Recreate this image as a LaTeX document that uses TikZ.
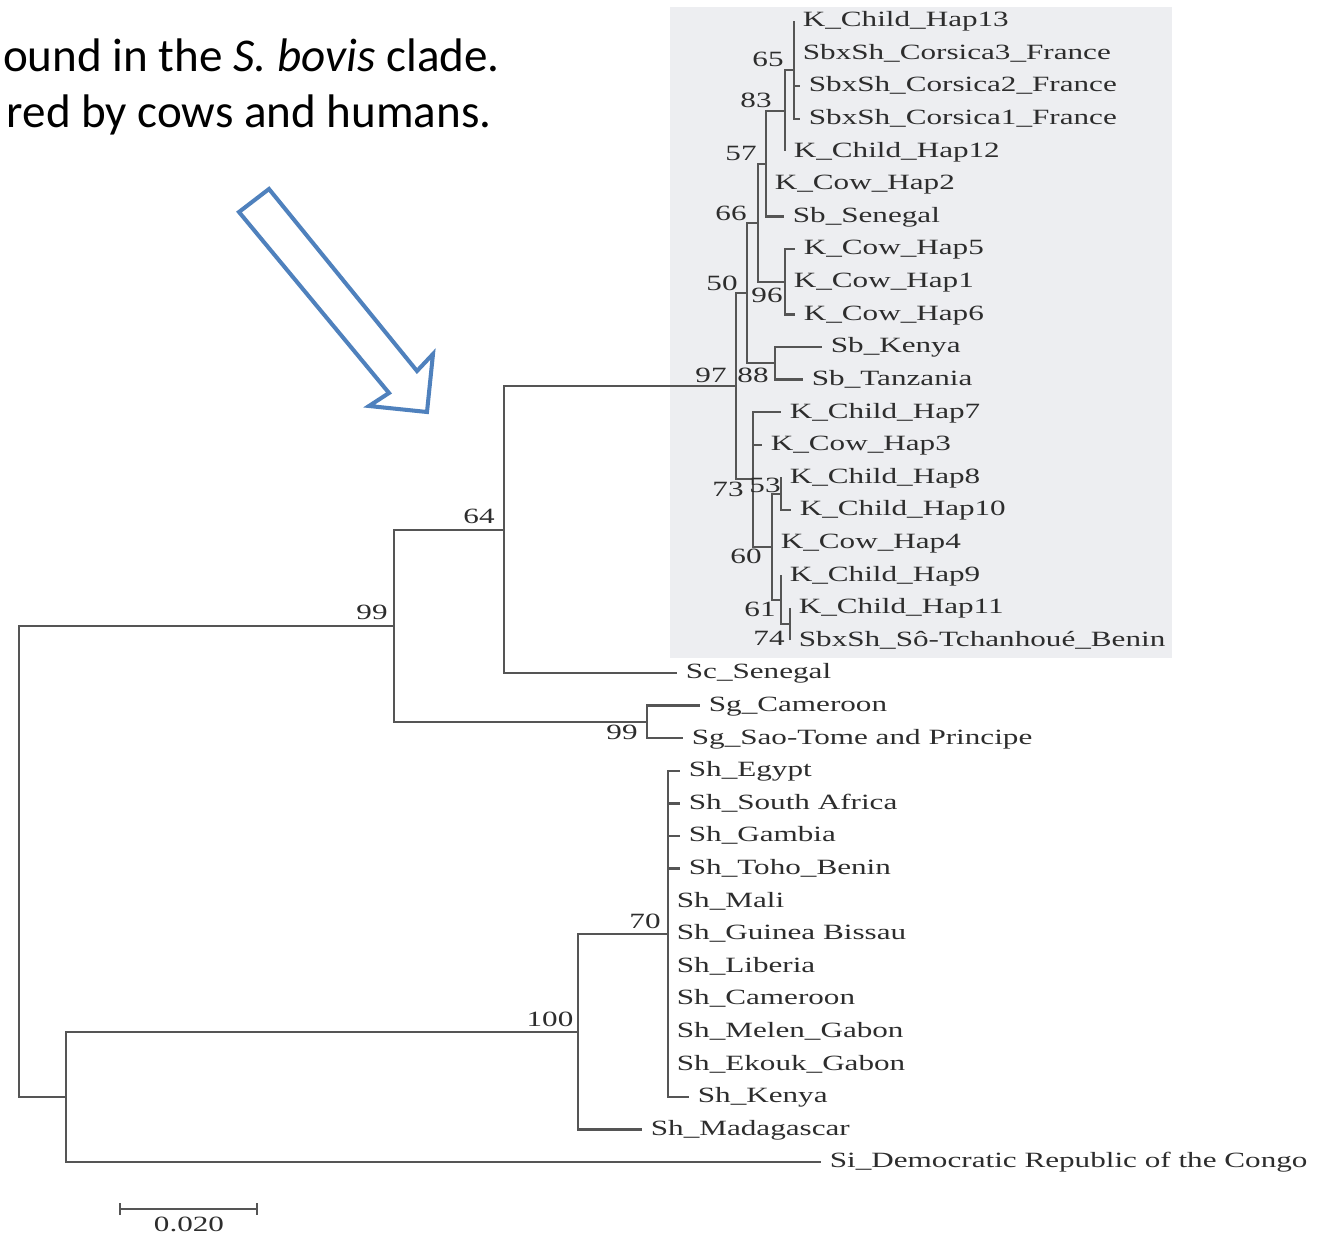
\documentclass[tikz,border=0pt]{standalone}
\usepackage{fontspec}
\usepackage{tikz}
\usetikzlibrary{arrows.meta}

\newfontfamily\treefont[FakeStretch=1.43]{Liberation Serif}
\newfontfamily\notefont{Carlito}

\definecolor{cladebg}{RGB}{237,238,241}
\definecolor{treeline}{RGB}{85,85,85}
\definecolor{treetext}{RGB}{45,45,45}
\definecolor{arrowblue}{RGB}{79,129,189}

\tikzset{
  branch/.style={draw=treeline, line width=1.3pt},
  leaf/.style={anchor=west, inner xsep=0.17cm, inner ysep=0pt,
    text height=0.66em, text depth=0pt, text=treetext,
    font=\fontsize{12.4pt}{14pt}\treefont},
  boot/.style={inner sep=0pt, text height=0.66em, text depth=0pt,
    text=treetext, font=\fontsize{12.4pt}{14pt}\treefont},
  note/.style={inner sep=0pt, anchor=base east,
    font=\fontsize{26.8pt}{32pt}\notefont}
}

\begin{document}
\begin{tikzpicture}[x=0.02cm,y=-0.02cm]
\useasboundingbox (0,0) rectangle (1322,1237);

%%% HELP LINES - uncomment to check positions
% \draw[step=100,gray,very thin] (0,0) grid (1322,1237);

% S. bovis clade (shaded)
\fill[cladebg] (670,7) rectangle (1172,658);

% caption text, cut on the left
\node[note] (cap1) at (500,72) {ound in the \textit{S. bovis} clade.};
\node[note] (cap2) at (492,128) {red by cows and humans.};

% hollow arrow
\draw[arrowblue, line width=2.3pt, fill=white, line join=miter]
  (239,212) -- (269,189) -- (417,371) -- (433,354)
  -- (427,412) -- (369,406) -- (389,393) -- cycle;

%% internal nodes
\coordinate (nroot) at (19,861);
\coordinate (n99a) at (394,626);
\coordinate (n64) at (504,530);
\coordinate (n97) at (736,386);
\coordinate (n50) at (747,293);
\coordinate (n66) at (758,223);
\coordinate (n57) at (766,164);
\coordinate (n83) at (785,111);
\coordinate (n65) at (794,70);
\coordinate (n96) at (785,282);
\coordinate (n88) at (775,363);
\coordinate (n73) at (753,479);
\coordinate (n60) at (772,547);
\coordinate (n53) at (781,494);
\coordinate (n61) at (781,600);
\coordinate (n74) at (790,624);
\coordinate (n99b) at (647,722);
\coordinate (nhi) at (66,1097);
\coordinate (n100) at (578,1032);
\coordinate (n70) at (668,934);

%% leaves
\node[leaf] (l1) at (794,21) {K\_Child\_Hap13};
\node[leaf] (l2) at (794,53.6) {SbxSh\_Corsica3\_France};
\node[leaf] (l3) at (800,86.2) {SbxSh\_Corsica2\_France};
\node[leaf] (l4) at (800,118.8) {SbxSh\_Corsica1\_France};
\node[leaf] (l5) at (785,151.4) {K\_Child\_Hap12};
\node[leaf] (l6) at (766,184) {K\_Cow\_Hap2};
\node[leaf] (l7) at (784,216.6) {Sb\_Senegal};
\node[leaf] (l8) at (795,249.2) {K\_Cow\_Hap5};
\node[leaf] (l9) at (785,281.8) {K\_Cow\_Hap1};
\node[leaf] (l10) at (795,314.4) {K\_Cow\_Hap6};
\node[leaf] (l11) at (822,347) {Sb\_Kenya};
\node[leaf] (l12) at (803,379.6) {Sb\_Tanzania};
\node[leaf] (l13) at (781,412.2) {K\_Child\_Hap7};
\node[leaf] (l14) at (762,444.8) {K\_Cow\_Hap3};
\node[leaf] (l15) at (781,477.4) {K\_Child\_Hap8};
\node[leaf] (l16) at (791,510) {K\_Child\_Hap10};
\node[leaf] (l17) at (772,542.6) {K\_Cow\_Hap4};
\node[leaf] (l18) at (781,575.2) {K\_Child\_Hap9};
\node[leaf] (l19) at (790,607.8) {K\_Child\_Hap11};
\node[leaf] (l20) at (790,640.4) {SbxSh\_Sô-Tchanhoué\_Benin};
\node[leaf] (l21) at (677,673) {Sc\_Senegal};
\node[leaf] (l22) at (700,705.6) {Sg\_Cameroon};
\node[leaf] (l23) at (683,738.2) {Sg\_Sao-Tome and Principe};
\node[leaf] (l24) at (680,770.8) {Sh\_Egypt};
\node[leaf] (l25) at (680,803.4) {Sh\_South Africa};
\node[leaf] (l26) at (680,836) {Sh\_Gambia};
\node[leaf] (l27) at (680,868.6) {Sh\_Toho\_Benin};
\node[leaf] (l28) at (668,901.2) {Sh\_Mali};
\node[leaf] (l29) at (668,933.8) {Sh\_Guinea Bissau};
\node[leaf] (l30) at (668,966.4) {Sh\_Liberia};
\node[leaf] (l31) at (668,999) {Sh\_Cameroon};
\node[leaf] (l32) at (668,1031.6) {Sh\_Melen\_Gabon};
\node[leaf] (l33) at (668,1064.2) {Sh\_Ekouk\_Gabon};
\node[leaf] (l34) at (689,1096.8) {Sh\_Kenya};
\node[leaf] (l35) at (642,1129.4) {Sh\_Madagascar};
\node[leaf] (l36) at (821,1162) {Si\_Democratic Republic of the Congo};

%% branches
\draw[branch] (nroot) |- (n99a) (nroot) |- (nhi);
\draw[branch] (n99a) |- (n64) (n99a) |- (n99b);
\draw[branch] (n64) |- (n97) (n64) |- (l21.west);
\draw[branch] (n97) |- (n50) (n97) |- (n73);
\draw[branch] (n50) |- (n66) (n50) |- (n88);
\draw[branch] (n66) |- (n57) (n66) |- (n96);
\draw[branch] (n57) |- (n83) (n57) |- (l6.west) (n57) |- (l7.west);
\draw[branch] (n83) |- (n65) (n83) |- (l5.west);
\draw[branch] (n65) |- (l1.west) (n65) |- (l2.west)
  (n65) |- (l3.west) (n65) |- (l4.west);
\draw[branch] (n96) |- (l8.west) (n96) |- (l9.west) (n96) |- (l10.west);
\draw[branch] (n88) |- (l11.west) (n88) |- (l12.west);
\draw[branch] (n73) |- (l13.west) (n73) |- (l14.west) (n73) |- (n60);
\draw[branch] (n60) |- (n53) (n60) |- (l17.west) (n60) |- (n61);
\draw[branch] (n53) |- (l15.west) (n53) |- (l16.west);
\draw[branch] (n61) |- (l18.west) (n61) |- (n74);
\draw[branch] (n74) |- (l19.west) (n74) |- (l20.west);
\draw[branch] (n99b) |- (l22.west) (n99b) |- (l23.west);
\draw[branch] (nhi) |- (n100) (nhi) |- (l36.west);
\draw[branch] (n100) |- (n70) (n100) |- (l35.west);
\draw[branch] (n70) |- (l24.west) (n70) |- (l34.west);
\draw[branch] (n70) |- (l25.west) (n70) |- (l26.west) (n70) |- (l27.west);

%% bootstrap values
\node[boot] (b65) at (768,61) {65};
\node[boot] (b83) at (756,102) {83};
\node[boot] (b57) at (741,155) {57};
\node[boot] (b66) at (731,215) {66};
\node[boot] (b50) at (722,285) {50};
\node[boot] (b96) at (767,297) {96};
\node[boot] (b97) at (711,377) {97};
\node[boot] (b88) at (753,377) {88};
\node[boot] (b73) at (728,491) {73};
\node[boot] (b53) at (765,487) {53};
\node[boot] (b60) at (746,558) {60};
\node[boot] (b61) at (760,611) {61};
\node[boot] (b74) at (769,640) {74};
\node[boot] (b64) at (479,518) {64};
\node[boot] (b99a) at (372,614) {99};
\node[boot] (b99b) at (622,734) {99};
\node[boot] (b70) at (645,923) {70};
\node[boot] (b100) at (550,1021) {100};

% scale bar
\coordinate (sbl) at (119,1209);
\coordinate (sbr) at (258,1209);
\draw[branch, {Bar[width=0.24cm]}-{Bar[width=0.24cm]}] (sbl) -- (sbr);
\node[boot] (sbt) at (189,1226) {0.020};

\end{tikzpicture}
\end{document}
